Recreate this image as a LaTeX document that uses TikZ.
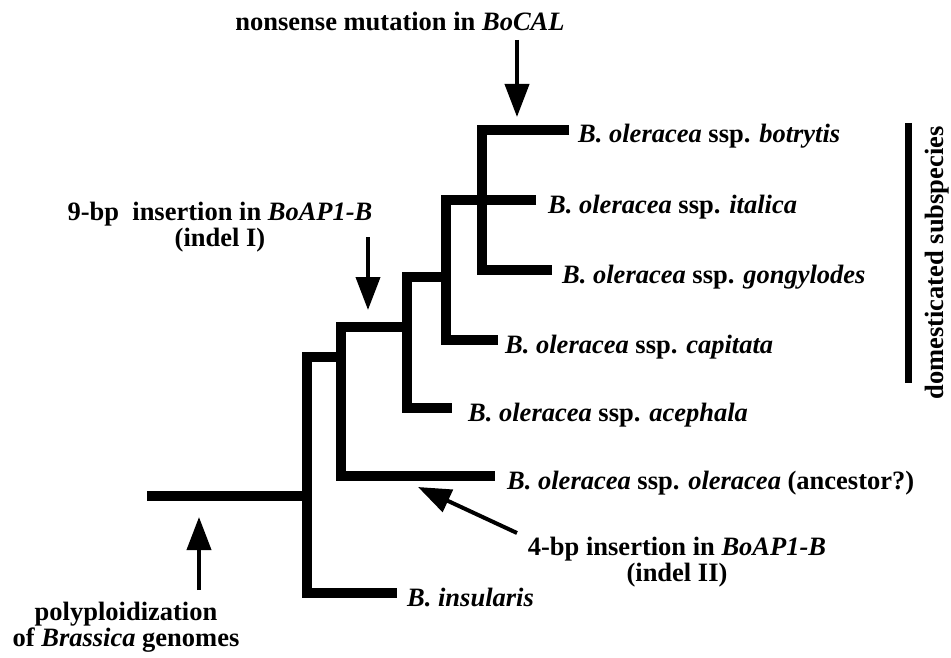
\documentclass[tikz,border=0pt]{standalone}
\usepackage{fontspec}
\setmainfont{Liberation Serif}
\usetikzlibrary{arrows.meta,positioning}

\tikzset{
  branch/.style={line width=10pt},
  evt/.style={line width=4pt,-{Triangle[length=33pt,width=24pt]}},
  leaf/.style={inner sep=0pt,text height=18pt,text depth=6pt,yshift=-7pt},
  note/.style={align=center,inner sep=0pt}
}

\begin{document}
\begin{tikzpicture}[x=1pt,y=-1pt,font=\fontsize{26.5}{26}\selectfont\bfseries]
	\useasboundingbox (0,0) rectangle (951,658);

	% tree junctions and tips
	\coordinate (troot) at (147,496);
	\coordinate (j1) at (307,496);
	\coordinate (j2) at (341,357);
	\coordinate (j3) at (407,327);
	\coordinate (j4) at (446,277);
	\coordinate (j5) at (482,200);
	\coordinate (tbot) at (569,130);
	\coordinate (tita) at (536,200);
	\coordinate (tgon) at (552,270);
	\coordinate (tcap) at (498,340);
	\coordinate (tace) at (452,408);
	\coordinate (tole) at (495,476);
	\coordinate (tins) at (397,593);

	\draw[branch] (tbot) -| (j5) |- (tgon);
	\draw[branch] (tita) -| (j4) |- (tcap);
	\draw[branch] (j4) -| (j3) |- (tace);
	\draw[branch] (j3) -| (j2) |- (tole);
	\draw[branch] (j2) -| (j1) |- (tins);
	\draw[branch] (troot) -- (j1);

	% leaves
	\node[leaf, right=9pt of tbot] (botr) {\textit{B. oleracea} ssp. \textit{botrytis}};
	\node[leaf, right=12pt of tita] (ital) {\textit{B. oleracea} ssp. \textit{italica}};
	\node[leaf, right=10pt of tgon] (gong) {\textit{B. oleracea} ssp. \textit{gongylodes}};
	\node[leaf, right=7pt of tcap] (capi) {\textit{B. oleracea} ssp. \textit{capitata}};
	\node[leaf, right=16pt of tace] (acep) {\textit{B. oleracea} ssp. \textit{acephala}};
	\node[leaf, right=12pt of tole] (oler) {\textit{B. oleracea} ssp. \textit{oleracea} (ancestor?)};
	\node[leaf, right=10pt of tins] (insu) {\textit{B. insularis}};

	% events
	\node[note, anchor=base] (bocal) at (400,31) {nonsense mutation in \textit{BoCAL}};
	\node[note] (indelI) at (220,227) {9-bp\ \ insertion in \textit{BoAP1-B}\\(indel I)};
	\node[note] (indelII) at (677,562) {4-bp insertion in \textit{BoAP1-B}\\(indel II)};
	\node[note] (poly) at (126,627) {polyploidization\\of \textit{Brassica} genomes};

	\coordinate (a1) at (517,40);  \coordinate (b1) at (517,117);
	\coordinate (a2) at (368,237); \coordinate (b2) at (368,310);
	\coordinate (a3) at (199,590); \coordinate (b3) at (199,517);
	\coordinate (a4) at (517,533); \coordinate (b4) at (418,487);
	\draw[evt] (a1) -- (b1);
	\draw[evt] (a2) -- (b2);
	\draw[evt] (a3) -- (b3);
	\draw[evt] (a4) -- (b4);

	% domesticated group
	\draw[line width=7pt] (908,123) -- (908,383);
	\node[rotate=90, anchor=base, inner sep=0pt] (dom) at (943,263) {domesticated subspecies};
\end{tikzpicture}
\end{document}
